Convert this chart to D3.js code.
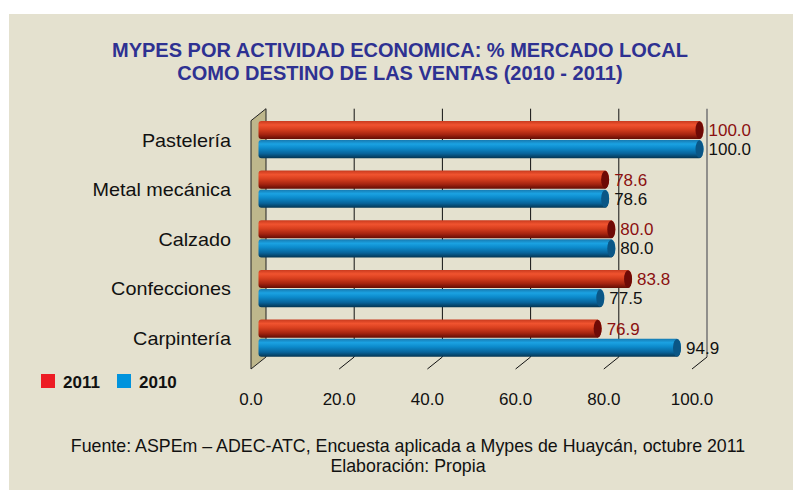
<!DOCTYPE html>
<html><head><meta charset="utf-8">
<script src="https://cdn.jsdelivr.net/npm/d3@7"></script>
<style>body{margin:0;background:#fff}svg{display:block}text{font-family:"Liberation Sans",Arial,sans-serif}</style>
</head><body><svg id="c" width="793" height="490"></svg>
<script>
const categories = ["Pastelería","Metal mecánica","Calzado","Confecciones","Carpintería"];
const series = ["2011","2010"];
const values2011 = [100.0, 78.6, 80.0, 83.8, 76.9];
const values2010 = [100.0, 78.6, 80.0, 77.5, 94.9];
const ticks = [0,20,40,60,80,100];
const titleLines = ["MYPES POR ACTIVIDAD ECONOMICA: % MERCADO LOCAL","COMO DESTINO DE LAS VENTAS (2010 - 2011)"];
const footerLines = ["Fuente: ASPEm \u2013 ADEC-ATC, Encuesta aplicada a Mypes de Huaycán, octubre 2011","Elaboración: Propia"];

const svg = d3.select("#c");
svg.append("rect").attr("x",9).attr("y",14).attr("width",784).attr("height",476).attr("fill","#E4E1CF");

const DX = 15, DY = -12;
const xF = d3.scaleLinear().domain([0,100]).range([251,692]);
const xM = v => xF(v) + DX/2;
const xB = v => xF(v) + DX;
const yFrontTop = 120.7, yFrontBot = 369;
const yBackTop = yFrontTop + DY, yBackBot = yFrontBot + DY;
const y0 = d3.scaleBand().domain(categories).range([yFrontTop+DY/2, yFrontBot+DY/2]).paddingInner(0.25).paddingOuter(0.125);
const y1 = d3.scaleBand().domain(series).range([0, y0.bandwidth()]).paddingInner(0.05);

// defs
const defs = svg.append("defs");
function grad(id, stops){
  const g = defs.append("linearGradient").attr("id",id).attr("x1",0).attr("y1",0).attr("x2",0).attr("y2",1);
  stops.forEach(s=>g.append("stop").attr("offset",s[0]).attr("stop-color",s[1]));
}
grad("gRed",[[0,"#C83A1E"],[0.22,"#F0532F"],[0.45,"#D9401F"],[0.75,"#A52410"],[1,"#620C04"]]);
grad("gBlue",[[0,"#1679B0"],[0.22,"#1BA2E2"],[0.45,"#0C8ACB"],[0.75,"#08639A"],[1,"#043552"]]);
const fills = {"2011":"url(#gRed)","2010":"url(#gBlue)"};
const caps = {"2011":"#6E0A06","2010":"#0A5686"};
const labelCol = {"2011":"#8B1010","2010":"#111"};

// wall
svg.append("path").attr("d",`M${xF(0)},${yFrontTop}L${xB(0)},${yBackTop}L${xB(0)},${yBackBot}L${xF(0)},${yFrontBot}Z`)
  .attr("fill","#BEB78C").attr("stroke","#222").attr("stroke-width",1);

// gridlines
ticks.filter(t=>t>0).forEach(t=>{
  const last = t===100;
  svg.append("line").attr("x1",xB(t)).attr("x2",xB(t)).attr("y1",yBackTop).attr("y2",yBackBot)
    .attr("stroke",last?"#7a7a7a":"#111").attr("stroke-width",last?1.6:1);
  svg.append("line").attr("x1",xF(t)).attr("y1",yFrontBot).attr("x2",xB(t)).attr("y2",yBackBot)
    .attr("stroke","#111").attr("stroke-width",1);
});

// bars
const rows = categories.map((c,i)=>({cat:c, vals:[{s:"2011",v:values2011[i]},{s:"2010",v:values2010[i]}]}));
const g = svg.append("g");
rows.forEach(r=>{
  r.vals.forEach(d=>{
    const top = y0(r.cat)+y1(d.s), h = y1.bandwidth();
    const x0 = xM(0), x1 = xM(d.v), rr = 3, rx = 4;
    g.append("path").attr("d",`M${x0+rr},${top}L${x1},${top}A${rx},${h/2} 0 0 1 ${x1},${top+h}L${x0+rr},${top+h}Q${x0},${top+h} ${x0},${top+h-rr}L${x0},${top+rr}Q${x0},${top} ${x0+rr},${top}Z`)
      .attr("fill",fills[d.s]);
    g.append("ellipse").attr("cx",x1).attr("cy",top+h/2).attr("rx",rx).attr("ry",h/2-0.3).attr("fill",caps[d.s]);
    g.append("text").attr("x",x1+rx+5).attr("y",top+h/2+6).attr("font-size",17).attr("fill",labelCol[d.s])
      .text(d3.format(".1f")(d.v));
  });
  svg.append("text").attr("x",231).attr("y",y0(r.cat)+y0.bandwidth()/2+7).attr("text-anchor","end")
    .attr("font-size",18).attr("fill","#111").attr("transform",`translate(231,0) scale(1.1,1) translate(-231,0)`).text(r.cat);
});

// tick labels
ticks.forEach(t=>{
  svg.append("text").attr("x",xF(t)).attr("y",405).attr("text-anchor","middle").attr("font-size",17).attr("fill","#111")
    .text(d3.format(".1f")(t));
});

// title
titleLines.forEach((t,i)=>{
  svg.append("text").attr("x",400).attr("y",56.5+i*23.5).attr("text-anchor","middle").attr("font-size",20)
    .attr("font-weight","bold").attr("fill","#2E3192").text(t);
});

// legend
const leg = [{s:"2011",c:"#ED1C24",x:41},{s:"2010",c:"#0093DD",x:117}];
leg.forEach(l=>{
  svg.append("rect").attr("x",l.x).attr("y",374).attr("width",14).attr("height",14).attr("fill",l.c);
  svg.append("text").attr("x",l.x+22).attr("y",388).attr("font-size",17).attr("font-weight","bold").attr("fill","#111").text(l.s);
});

// footer
footerLines.forEach((t,i)=>{
  svg.append("text").attr("x",408).attr("y",452+i*19.5).attr("text-anchor","middle").attr("font-size",17.8).attr("fill","#111").text(t);
});
</script></body></html>
